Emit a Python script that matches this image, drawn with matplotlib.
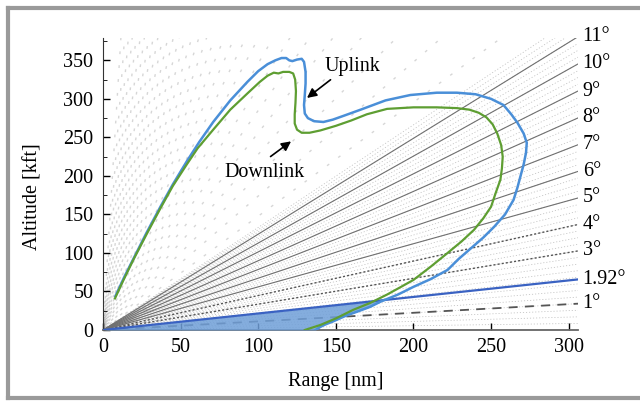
import numpy as np
import matplotlib
matplotlib.use("Agg")
import matplotlib.pyplot as plt
from matplotlib.lines import Line2D

plt.rcParams['font.family'] = ['Liberation Serif', 'DejaVu Serif']
plt.rcParams['font.size'] = 14.5

# elevation angles of the labelled rays (deg)
angles = [1, 1.92, 3, 4, 5, 6, 7, 8, 9, 10, 11]
angle_labels = ['1°', '1.92°', '3°', '4°', '5°', '6°', '7°', '8°', '9°', '10°', '11°']
kft_per_nm = 6.4  # slope scale as drawn in the source figure

# uplink coverage (range nm, altitude kft)
up_range = [8, 14, 20, 28, 37, 45, 54, 62, 71, 82, 93, 100, 106, 111, 115, 118, 120, 122, 125,
            128, 129.5, 130.5, 130.5, 130, 129.5, 130, 132, 136, 142, 148, 155, 166, 182, 198,
            215, 228, 240, 250, 258, 263, 267, 271, 273, 272.5, 271, 269, 267, 264.5, 259, 252,
            245, 237, 229, 222, 211, 200, 190, 179, 172, 164, 157, 148, 143, 140, 137]
up_alt = [44, 70, 94, 126, 160, 189, 219, 244, 270, 298, 322, 336, 345, 350, 353, 353, 350, 349,
          351, 352, 348, 335, 320, 305, 292, 281, 275, 271, 270, 273, 278, 286, 298, 305,
          308, 308, 306, 300, 292, 280, 269, 255, 243, 230, 215, 200, 185, 169, 150, 134,
          120, 106, 92, 78, 66, 56, 46, 37, 30, 24, 19, 11, 7, 4, 0]

# downlink coverage
down_range = [7.7, 13, 19.5, 28, 37, 45, 54, 61, 71, 82, 93, 101, 106, 110, 113, 116, 120,
              122.5, 123.8, 124.3, 124, 123.5, 123.5, 125, 128, 133, 140, 150, 160, 170, 183,
              200, 215, 228, 236, 242, 247, 251, 254, 256.5, 257.5, 257, 256, 253, 250, 245,
              239, 231, 222, 211, 200, 192, 183, 172, 161, 150, 140, 130]
down_alt = [41, 64, 91, 124, 158, 187, 215, 236, 260, 286, 307, 322, 330, 334, 333, 335, 335,
            333, 325, 310, 295, 280, 268, 260, 256, 256, 259, 265, 272, 280, 287,
            289, 289, 288, 286, 282, 276, 267, 255, 240, 225, 210, 195, 178, 160, 145,
            130, 115, 100, 82, 65, 56, 46, 35, 26, 15, 6.5, 0]

xmax, ymax = 306, 379

fig = plt.figure(figsize=(6.4, 4.03), dpi=100)
ax = fig.add_axes([103 / 640, 1 - 330 / 403, 475 / 640, 292 / 403])
ax.set_xlim(0, xmax)
ax.set_ylim(0, ymax)

r = np.array([0, xmax])

# background texture: fan of faint dotted rays
for i, a in enumerate(np.arange(0.25, 12, 0.25)):
    ax.plot(r, r * kft_per_nm * np.tan(np.radians(a)), color='#8a8a8a', lw=0.55,
            ls=((i * 0.9) % 4, (1.5, 2.5)), alpha=0.55, zorder=1)
for i, a in enumerate(np.arange(13, 80, 2.2)):
    ax.plot(r, r * kft_per_nm * np.tan(np.radians(a)), color='#7a7a7a', lw=1.0,
            ls=((i * 3.7) % 10, (2, 8)), alpha=0.3, zorder=1)

# labelled rays
for a, lab in zip(angles, angle_labels):
    h = r * kft_per_nm * np.tan(np.radians(a))
    if a == 1:
        ax.plot(r, h, color='#555555', lw=1.3, ls=(0, (5, 4)), zorder=2)
    elif a == 1.92:
        ax.plot(r, h, color='#3a62c2', lw=1.6, zorder=4)
    elif a in (3, 4):
        ax.plot(r, h, color='#555555', lw=1.0, ls=(0, (1.5, 1.5)), zorder=2)
    else:
        ax.plot(r, h, color='#707070', lw=0.8, zorder=2)
    ax.text(xmax + 3, h[-1], lab, ha='left', va='center', clip_on=False)

# shaded region under the 1.92 deg ray, left of the uplink lower edge
lo_r = np.array(up_range[-10:][::-1])
lo_h = np.array(up_alt[-10:][::-1])
xs = np.linspace(0, 200, 400)
upper = xs * kft_per_nm * np.tan(np.radians(1.92))
lower = np.interp(xs, lo_r, lo_h, left=0)
ax.fill_between(xs, lower, upper, where=upper > lower, color='#6f9fd8', alpha=0.85,
                lw=0, zorder=3)

ax.plot(up_range, up_alt, color='#4a8fd8', lw=1.8, zorder=5, solid_joinstyle='round')
ax.plot(down_range, down_alt, color='#5e9e32', lw=1.6, zorder=6, solid_joinstyle='round')

ax.text(160.6, 341.6, 'Uplink', ha='center', va='center', zorder=7)
ax.annotate('', xy=(130, 299), xytext=(148, 327),
            arrowprops=dict(arrowstyle='-|>', color='black', lw=1.2, mutation_scale=14))
ax.text(104, 205, 'Downlink', ha='center', va='center', zorder=7)
ax.annotate('', xy=(122.6, 247), xytext=(106.5, 223),
            arrowprops=dict(arrowstyle='-|>', color='black', lw=1.2, mutation_scale=14))

ax.set_xticks([0, 50, 100, 150, 200, 250, 300])
ax.set_yticks([0, 50, 100, 150, 200, 250, 300, 350])
ax.set_yticks(np.arange(25, 379, 50), minor=True)
ax.tick_params(direction='in', length=5, width=1, pad=7)
ax.tick_params(which='minor', direction='in', length=3)
ax.tick_params(axis='x', pad=6)

for side in ('top', 'right'):
    ax.spines[side].set_visible(False)
ax.spines['left'].set_color('#333333')
ax.spines['bottom'].set_color('#666666')
ax.spines['bottom'].set_linewidth(1.3)

ax.set_xlabel('Range [nm]')
ax.set_ylabel('Altitude [kft]')
ax.xaxis.set_label_coords(0.49, -0.144)
ax.yaxis.set_label_coords(-0.128, 0.457)

# grey frame around the figure
frame = dict(color='#9a9a9a', lw=3, transform=fig.transFigure)
fig.add_artist(Line2D([8 / 640, 8 / 640], [1 - 8 / 403, 1 - 398 / 403], **frame))
fig.add_artist(Line2D([8 / 640, 1], [1 - 8 / 403, 1 - 8 / 403], **frame))
fig.add_artist(Line2D([8 / 640, 1], [1 - 398 / 403, 1 - 398 / 403], **frame))

fig.savefig('out.png', dpi=100)
